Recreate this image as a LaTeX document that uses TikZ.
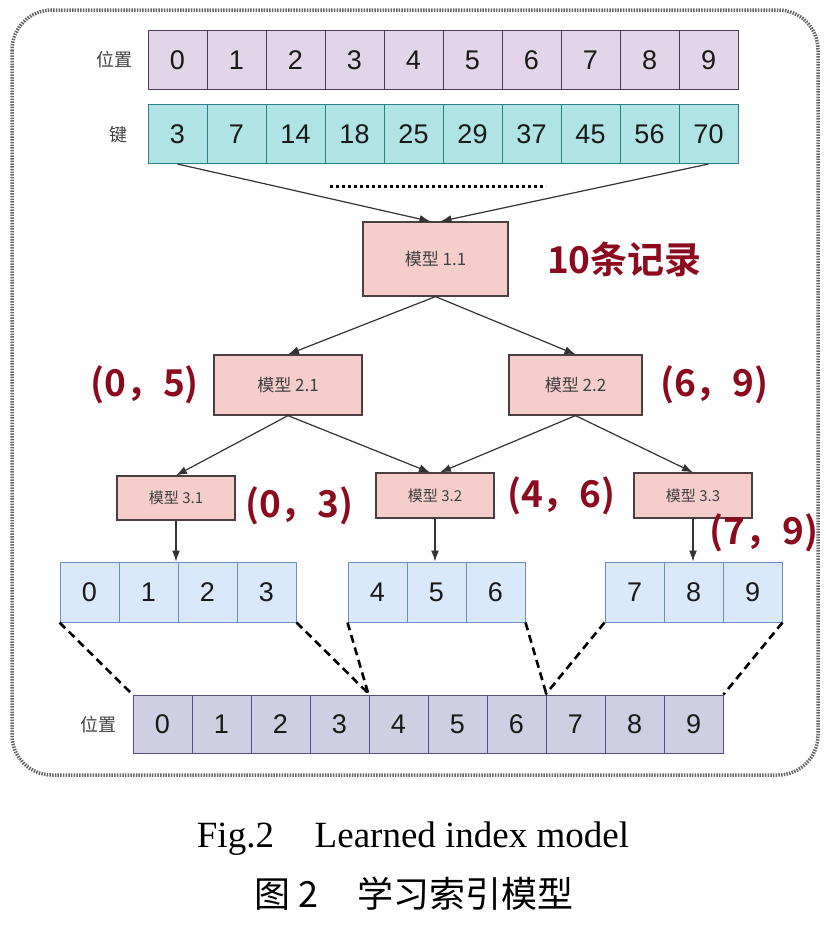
\documentclass[tikz,border=0pt]{standalone}
\usepackage{fontspec}
\setmainfont{Liberation Sans}
\newfontfamily\cjk{Noto Sans CJK SC}[BoldFont={Noto Sans CJK SC Bold}]
\newfontfamily\capserif{Liberation Serif}
\usetikzlibrary{positioning,arrows.meta}
\definecolor{poscol}{HTML}{E1D5E7}
\definecolor{posedge}{HTML}{4D3B57}
\definecolor{keycol}{HTML}{B0E3E6}
\definecolor{keyedge}{HTML}{2E7F86}
\definecolor{modcol}{HTML}{F5CDCB}
\definecolor{modedge}{HTML}{4A4040}
\definecolor{segcol}{HTML}{DAE8FC}
\definecolor{segedge}{HTML}{6C8EBF}
\definecolor{slotcol}{HTML}{D0CEE2}
\definecolor{slotedge}{HTML}{56517E}
\definecolor{rangecol}{HTML}{8C0A1E}
\begin{document}
\begin{tikzpicture}[x=1pt,y=-1pt,
    cell/.style={draw,line width=1pt,minimum width=59pt,minimum height=59pt,inner sep=0pt,font=\fontsize{27}{30}\selectfont,text=black!90},
    model/.style={draw=modedge,fill=modcol,line width=1.2pt,inner sep=0pt,font=\cjk\fontsize{17}{20}\selectfont,text=black!75},
    spanlbl/.style={font=\cjk\bfseries\fontsize{37}{40}\selectfont,text=rangecol},
    rowtag/.style={font=\cjk\fontsize{18}{20}\selectfont,text=black!75},
    arrowlink/.style={-{Latex[length=11pt,width=8pt]},line width=1.2pt,black!80},
    foldline/.style={line width=2.6pt,dash pattern=on 8pt off 5pt}]
    \useasboundingbox (0,0) rectangle (825,926);
    \draw[black!60,line width=3.5pt,dash pattern=on 1.5pt off 1.2pt,rounded corners=40pt] (12,10) rectangle (818,775);
    %
    \node[rowtag] (tpos) at (114,60) {位置};
    \node[rowtag] (tkey) at (118,135) {键};
    \foreach \v [count=\i from 0] in {0,...,9}
        \node[cell,fill=poscol,draw=posedge] (p\i) at (177.5+59*\i,60) {\v};
    \foreach \v [count=\i from 0] in {3,7,14,18,25,29,37,45,56,70}
        \node[cell,fill=keycol,draw=keyedge] (k\i) at (177.5+59*\i,134) {\v};
    \draw[line width=3pt,dash pattern=on 3pt off 3pt] (330,186) -- (546,186);
    %
    \node[model,minimum width=145pt,minimum height=74pt] (m11) at (435.5,259) {模型 1.1};
    \node[spanlbl,right=35pt of m11] (n11) {10条记录};
    \draw[arrowlink] (k0.south) -- ([xshift=-5pt]m11.north);
    \draw[arrowlink] (k9.south) -- ([xshift=5pt]m11.north);
    %
    \node[model,minimum width=148pt,minimum height=60pt] (m21) at (288,385) {模型 2.1};
    \node[model,minimum width=133pt,minimum height=60pt] (m22) at (575.5,385) {模型 2.2};
    \node[spanlbl,left=11pt of m21] (r21) {(0，5)};
    \node[spanlbl,right=14pt of m22] (r22) {(6，9)};
    \draw[arrowlink] (m11.south) -- (m21.north);
    \draw[arrowlink] (m11.south) -- (m22.north);
    %
    \node[model,minimum width=118pt,minimum height=44pt,font=\cjk\fontsize{15}{17}\selectfont] (m31) at (176,498) {模型 3.1};
    \node[model,minimum width=118pt,minimum height=45pt,font=\cjk\fontsize{15}{17}\selectfont] (m32) at (435,495.5) {模型 3.2};
    \node[model,minimum width=118pt,minimum height=45pt,font=\cjk\fontsize{15}{17}\selectfont] (m33) at (693,495.5) {模型 3.3};
    \node[spanlbl,right=6pt of m31,yshift=-8pt] (r31) {(0，3)};
    \node[spanlbl,right=9pt of m32] (r32) {(4，6)};
    \node[spanlbl] (r33) at (764,533) {(7，9)};
    \draw[arrowlink] (m21.south) -- (m31.north);
    \draw[arrowlink] (m21.south) -- ([xshift=-5pt]m32.north);
    \draw[arrowlink] (m22.south) -- ([xshift=5pt]m32.north);
    \draw[arrowlink] (m22.south) -- (m33.north);
    %
    \foreach \v [count=\i from 0] in {0,...,3}
        \node[cell,fill=segcol,draw=segedge,minimum height=60pt] (a\i) at (89.5+59*\i,592) {\v};
    \foreach \v [count=\i from 0] in {4,5,6}
        \node[cell,fill=segcol,draw=segedge,minimum height=60pt] (b\i) at (377.5+59*\i,592) {\v};
    \foreach \v [count=\i from 0] in {7,8,9}
        \node[cell,fill=segcol,draw=segedge,minimum height=60pt] (c\i) at (634.5+59*\i,592) {\v};
    \draw[arrowlink] (m31.south) -- (m31.south |- a1.north);
    \draw[arrowlink] (m32.south) -- (m32.south |- b1.north);
    \draw[arrowlink] (m33.south) -- (m33.south |- c1.north);
    %
    \node[rowtag] (bpos) at (98,725) {位置};
    \foreach \v [count=\i from 0] in {0,...,9}
        \node[cell,fill=slotcol,draw=slotedge,minimum height=58pt] (q\i) at (162.5+59*\i,724) {\v};
    \draw[foldline] (a0.south west) -- (q0.north west);
    \draw[foldline] (a3.south east) -- (q3.north east);
    \draw[foldline] (b0.south west) -- (q4.north west);
    \draw[foldline] (b2.south east) -- (q6.north east);
    \draw[foldline] (c0.south west) -- (q7.north west);
    \draw[foldline] (c2.south east) -- (q9.north east);
    %
    \node[font=\capserif\fontsize{37}{40}\selectfont,anchor=base] (cap1) at (413,847) {Fig.2\hspace{1.1em}Learned index model};
    \node[font=\cjk\fontsize{36}{40}\selectfont,anchor=base] (cap2) at (414,907) {图 2\hspace{1.1em}学习索引模型};
\end{tikzpicture}
\end{document}
